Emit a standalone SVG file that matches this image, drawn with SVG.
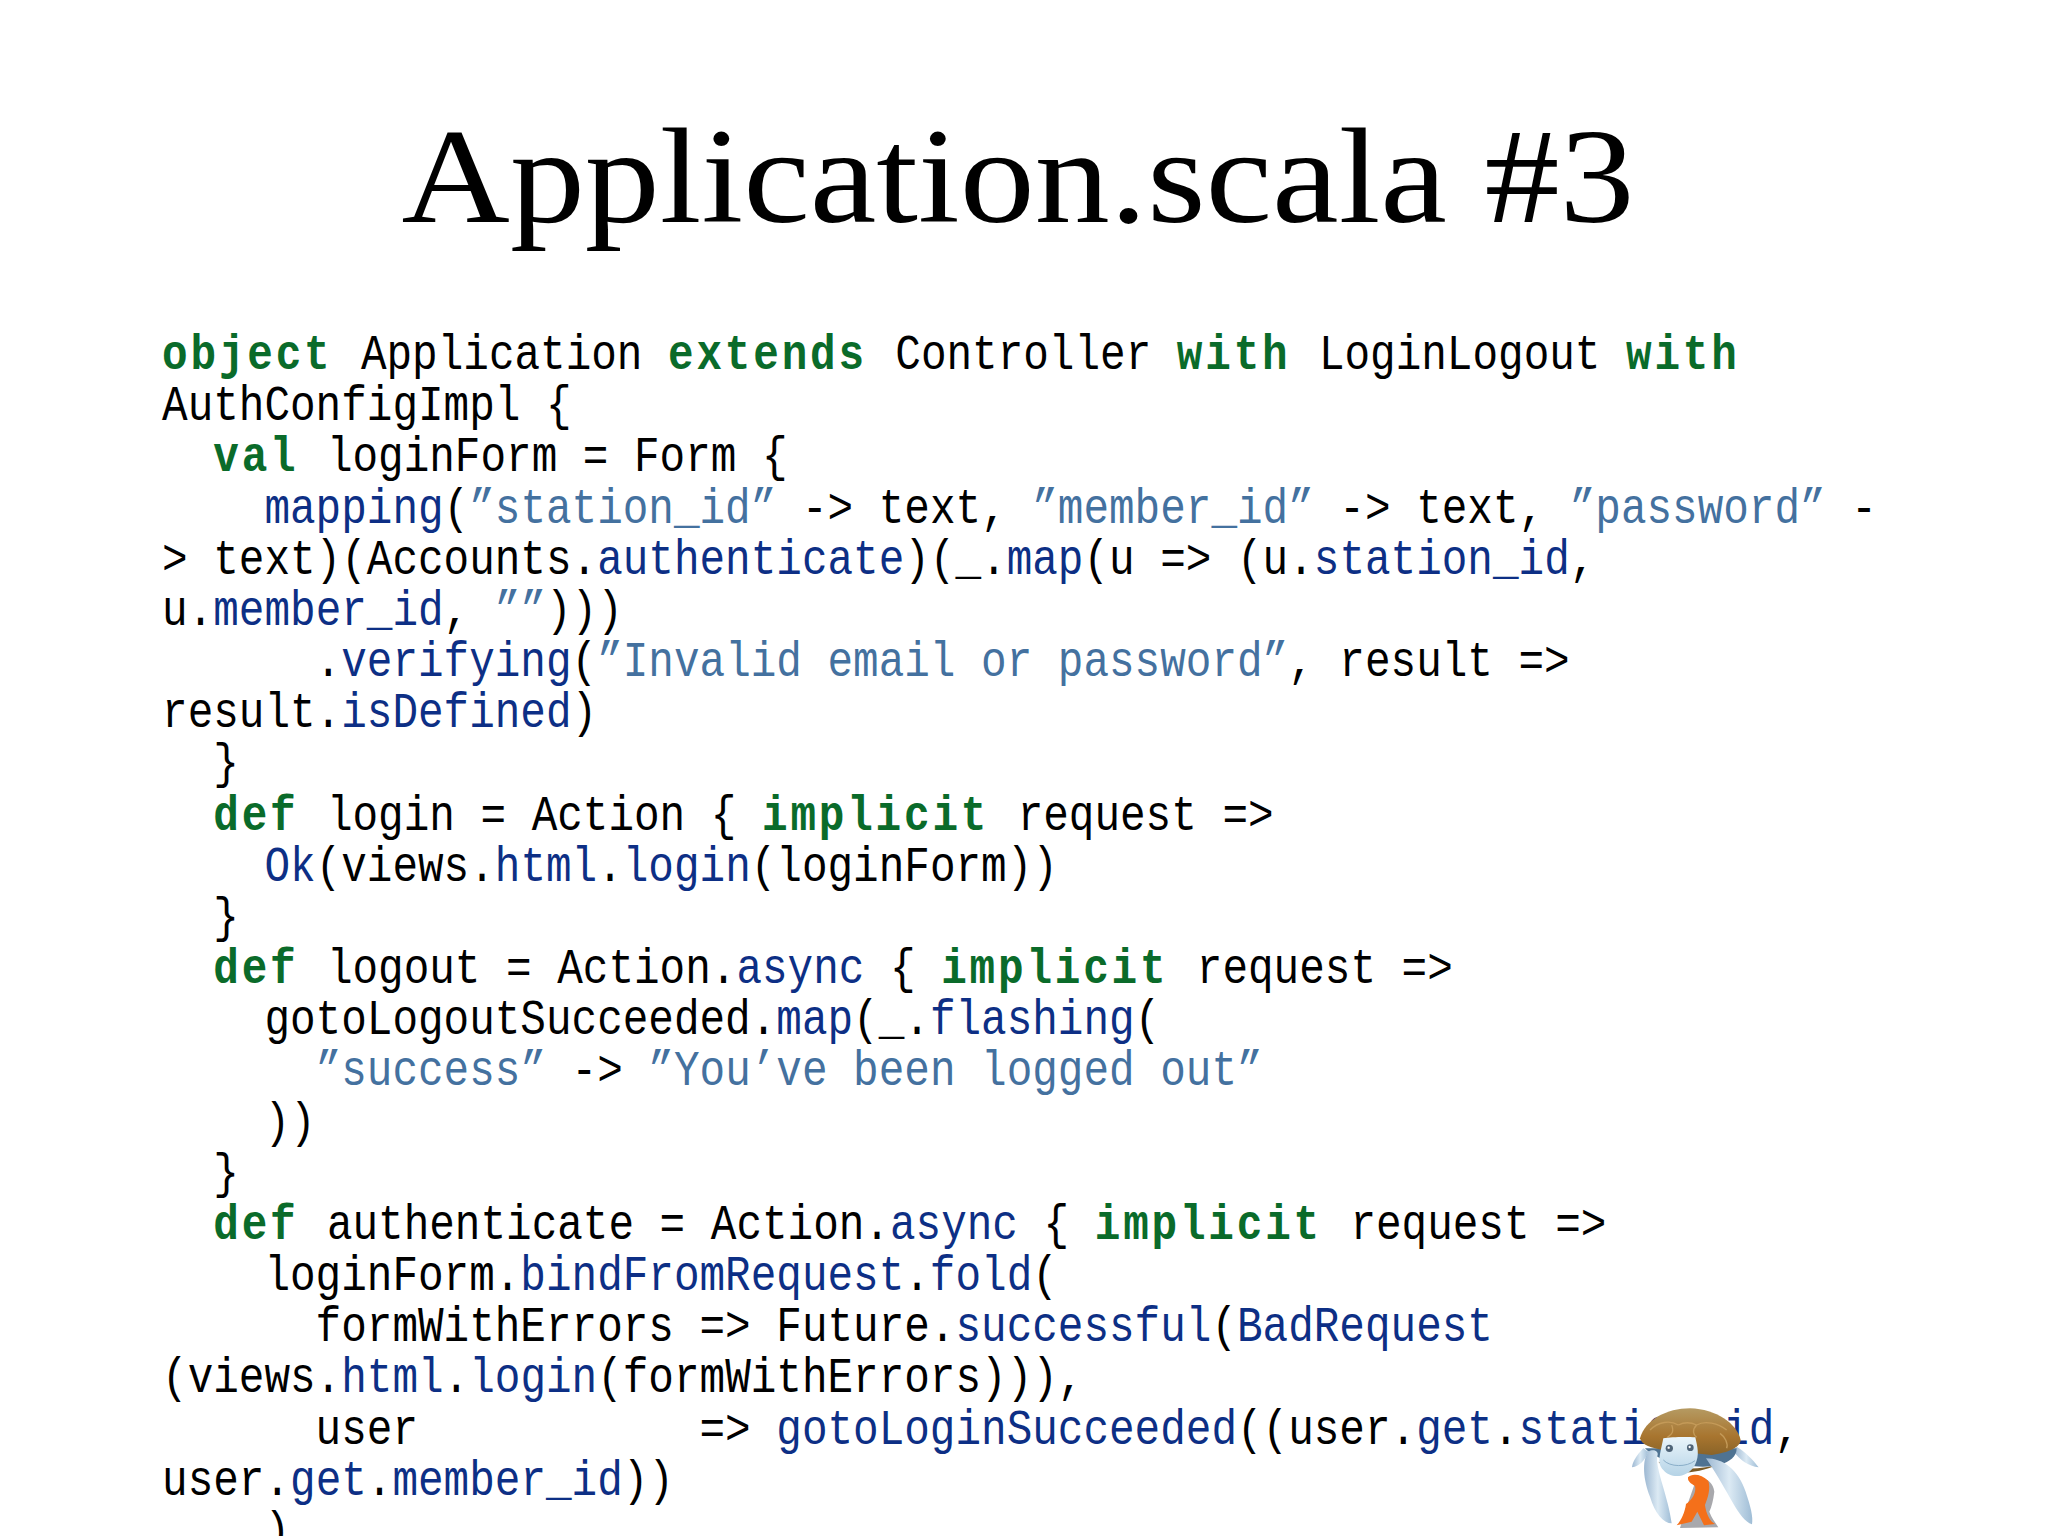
<svg xmlns="http://www.w3.org/2000/svg" width="2048" height="1536" viewBox="0 0 2048 1536">
<style>
.t{font-family:"Liberation Serif",serif;font-size:136px;fill:#000}
.c{font-family:"Liberation Mono",monospace;font-size:50px;fill:#000;white-space:pre}
.k{fill:#0a6b2a;font-weight:bold;letter-spacing:3.3px}
.m{fill:#0d2f85}
.s{fill:#44719f}
</style>
<defs>
<linearGradient id="shell" x1="0" y1="0" x2="0" y2="1"><stop offset="0" stop-color="#b59a62"/><stop offset=".6" stop-color="#a8752f"/><stop offset="1" stop-color="#8a6428"/></linearGradient>
<linearGradient id="flip" x1="0" y1="0" x2="1" y2="0"><stop offset="0" stop-color="#9db8d2"/><stop offset=".5" stop-color="#dceaf4"/><stop offset="1" stop-color="#9fbdd6"/></linearGradient>
<linearGradient id="head" x1="0" y1="0" x2="0" y2="1"><stop offset="0" stop-color="#eaf5fb"/><stop offset="1" stop-color="#b5d3e6"/></linearGradient>
</defs>
<rect width="2048" height="1536" fill="#fff"/>
<text class="t" transform="translate(1018 222) scale(1.103 1)" text-anchor="middle">Application.scala #3</text>
<g id="code" transform="translate(0 1.5) scale(.853 1)">
<text class="c" x="190" y="368"><tspan class="k">object </tspan>Application <tspan class="k">extends </tspan>Controller <tspan class="k">with </tspan>LoginLogout <tspan class="k">with</tspan></text>
<text class="c" x="190" y="419">AuthConfigImpl {</text>
<text class="c" x="190" y="470">  <tspan class="k">val </tspan>loginForm = Form {</text>
<text class="c" x="190" y="522">    <tspan class="m">mapping</tspan>(<tspan class="s">”station_id”</tspan> -&gt; text, <tspan class="s">”member_id”</tspan> -&gt; text, <tspan class="s">”password”</tspan> -</text>
<text class="c" x="190" y="573">&gt; text)(Accounts.<tspan class="m">authenticate</tspan>)(_.<tspan class="m">map</tspan>(u =&gt; (u.<tspan class="m">station_id</tspan>,</text>
<text class="c" x="190" y="624">u.<tspan class="m">member_id</tspan>, <tspan class="s">””</tspan>)))</text>
<text class="c" x="190" y="675">      .<tspan class="m">verifying</tspan>(<tspan class="s">”Invalid email or password”</tspan>, result =&gt;</text>
<text class="c" x="190" y="726">result.<tspan class="m">isDefined</tspan>)</text>
<text class="c" x="190" y="777">  }</text>
<text class="c" x="190" y="829">  <tspan class="k">def </tspan>login = Action { <tspan class="k">implicit </tspan>request =&gt;</text>
<text class="c" x="190" y="880">    <tspan class="m">Ok</tspan>(views.<tspan class="m">html</tspan>.<tspan class="m">login</tspan>(loginForm))</text>
<text class="c" x="190" y="931">  }</text>
<text class="c" x="190" y="982">  <tspan class="k">def </tspan>logout = Action.<tspan class="m">async</tspan> { <tspan class="k">implicit </tspan>request =&gt;</text>
<text class="c" x="190" y="1033">    gotoLogoutSucceeded.<tspan class="m">map</tspan>(_.<tspan class="m">flashing</tspan>(</text>
<text class="c" x="190" y="1084">      <tspan class="s">”success”</tspan> -&gt; <tspan class="s">”You’ve been logged out”</tspan></text>
<text class="c" x="190" y="1136">    ))</text>
<text class="c" x="190" y="1187">  }</text>
<text class="c" x="190" y="1238">  <tspan class="k">def </tspan>authenticate = Action.<tspan class="m">async</tspan> { <tspan class="k">implicit </tspan>request =&gt;</text>
<text class="c" x="190" y="1289">    loginForm.<tspan class="m">bindFromRequest</tspan>.<tspan class="m">fold</tspan>(</text>
<text class="c" x="190" y="1340">      formWithErrors =&gt; Future.<tspan class="m">successful</tspan>(<tspan class="m">BadRequest</tspan></text>
<text class="c" x="190" y="1391">(views.<tspan class="m">html</tspan>.<tspan class="m">login</tspan>(formWithErrors))),</text>
<text class="c" x="190" y="1443">      user           =&gt; <tspan class="m">gotoLoginSucceeded</tspan>((user.<tspan class="m">get</tspan>.<tspan class="m">station_id</tspan>,</text>
<text class="c" x="190" y="1494">user.<tspan class="m">get</tspan>.<tspan class="m">member_id</tspan>))</text>
<text class="c" x="190" y="1545">    )</text>
</g>
<g id="turtle" transform="translate(1580 1380) scale(.3333)">
<path d="M190 205 C170 225 158 245 156 262 C180 258 195 240 205 215Z" fill="url(#flip)"/>
<path d="M470 200 C495 215 520 240 536 262 C505 258 480 240 462 215Z" fill="url(#flip)"/>
<path d="M195 205 C240 250 350 270 420 255 C450 245 470 230 470 205Z" fill="#4f7392"/>
<path d="M235 245 C280 268 350 272 410 255 C380 270 340 278 300 278 C270 275 250 262 235 245Z" fill="#7a5a25"/>
<path d="M180 175 C195 120 260 85 330 85 C410 88 470 130 482 180 C480 205 440 218 395 225 L250 210 C215 205 185 195 180 175Z" fill="url(#shell)"/>
<path d="M210 150 C235 125 270 120 295 135 M275 135 C285 160 270 165 262 172 M350 135 C375 120 415 130 440 150 M350 135 C335 150 340 165 350 172 M295 135 C315 125 335 128 350 135 M420 160 C435 170 445 190 440 205" fill="none" stroke="#c49a58" stroke-width="4"/>
<path d="M250 175 C275 170 325 170 346 172 C352 200 360 225 345 255 C325 292 275 300 250 270 C230 250 240 225 250 175Z" fill="url(#head)"/>
<circle cx="268" cy="205" r="11" fill="#4f6478"/><circle cx="331" cy="203" r="10" fill="#4f6478"/>
<circle cx="266" cy="203" r="3.5" fill="#fff"/><circle cx="329" cy="201" r="3.5" fill="#fff"/>
<path d="M250 240 C270 262 320 262 345 242" fill="none" stroke="#7da3c0" stroke-width="2.5"/>
<path d="M205 215 C222 205 238 215 232 228 C225 265 265 350 275 430 C250 430 225 400 210 350 C190 300 185 240 205 215Z" fill="url(#flip)"/>
<path d="M378 235 C430 235 475 270 497 335 C512 380 520 410 516 433 C475 420 450 340 378 235Z" fill="url(#flip)"/>
<path d="M350 295 C380 290 400 310 403 335 C400 360 395 380 388 395 C395 415 408 430 415 442 L300 444 L320 380Z" fill="#3d3d48" opacity=".45"/>
<path d="M324 292 C335 280 365 282 385 303 C392 325 385 350 375 375 C378 400 390 425 405 432 L372 436 L352 395 L335 425 L290 436 C305 420 315 395 318 372 C335 360 350 340 345 318 C335 312 322 305 324 292Z" fill="#f4701a"/>
</g>
</svg>
